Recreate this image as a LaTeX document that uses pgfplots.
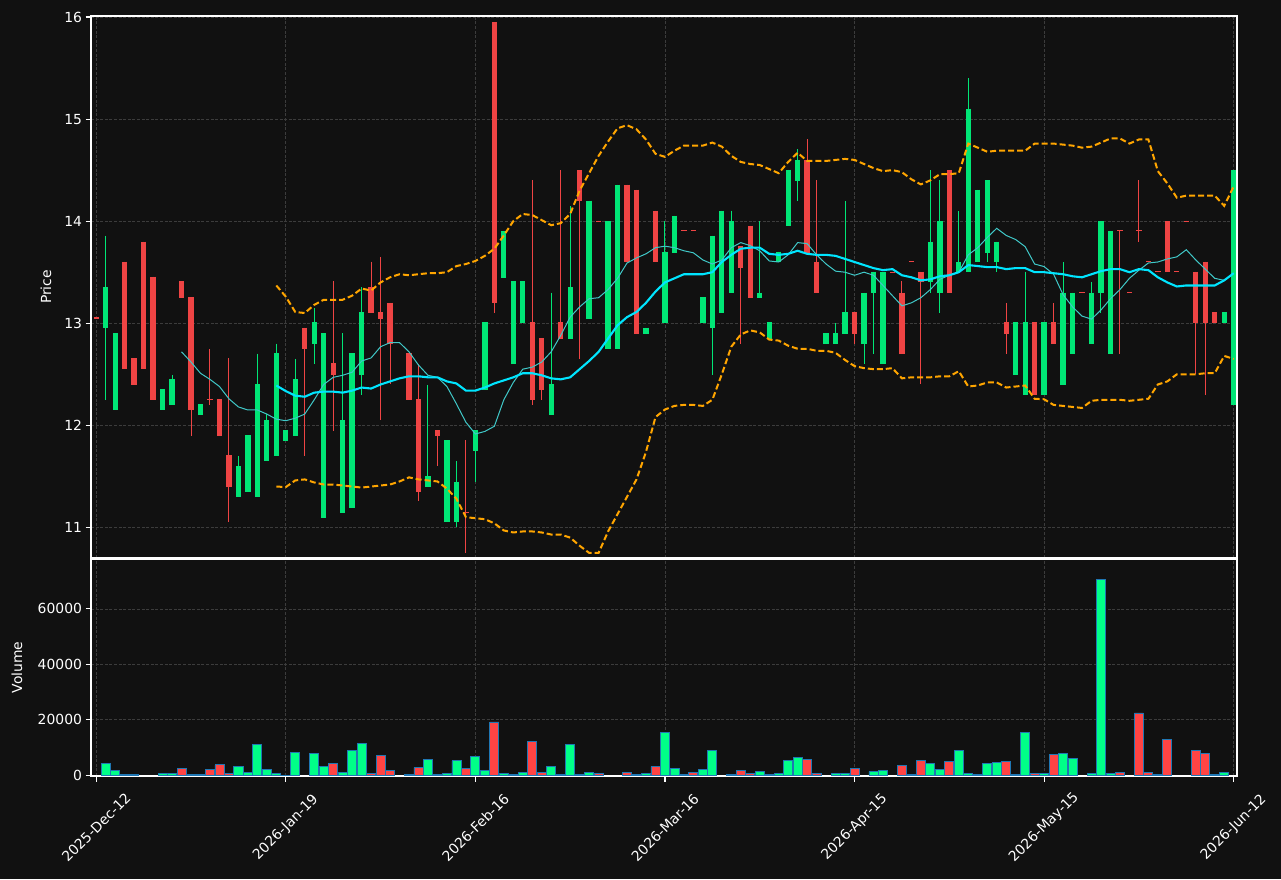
\documentclass[border=0pt]{standalone}
\usepackage{pgfplots}
\pgfplotsset{compat=1.18}
\usepackage{pgfplotstable}
\usepackage{fontspec}
\setmainfont{DejaVu Sans}

\definecolor{bg}{HTML}{111111}
\definecolor{upc}{HTML}{00E676}
\definecolor{dnc}{HTML}{EF4444}
\definecolor{vup}{HTML}{00FF88}
\definecolor{vdn}{HTML}{FF4444}
\definecolor{vedge}{HTML}{1F77B4}
\definecolor{maA}{HTML}{00E5FF}
\definecolor{maB}{HTML}{40C8C8}
\definecolor{bbc}{HTML}{FFA500}
\definecolor{gridc}{HTML}{3C3C3C}

\pgfplotstableread{
x O H L C
1 12.954 13.855 12.247 13.352
2 12.152 12.90 12.152 12.90
7 12.152 12.353 12.152 12.353
8 12.20 12.495 12.20 12.451
11 12.101 12.206 12.101 12.206
15 11.299 11.70 11.299 11.602
16 11.35 11.904 11.35 11.904
17 11.299 12.703 11.299 12.40
18 11.652 12.111 11.652 12.05
19 11.70 12.80 11.70 12.706
20 11.846 11.952 11.846 11.952
21 11.897 12.652 11.897 12.451
23 12.798 13.148 12.604 13.008
24 11.095 12.90 11.095 12.90
26 11.143 12.90 11.143 12.05
27 11.194 12.706 11.194 12.706
28 12.492 13.352 12.298 13.107
35 11.398 12.397 11.398 11.50
37 11.048 11.853 11.048 11.853
38 11.048 11.652 11.00 11.449
40 11.751 11.952 11.449 11.952
41 12.349 13.008 12.349 13.008
43 13.447 13.906 13.447 13.906
44 12.601 13.41 12.601 13.41
45 13.002 13.41 13.002 13.41
48 12.101 13.30 12.101 12.40
50 12.842 14.15 12.842 13.352
52 13.046 14.201 13.046 14.201
54 12.747 14.0 12.747 14.0
55 12.747 14.358 12.747 14.358
58 12.893 12.957 12.893 12.957
60 13.002 14.0 13.002 13.702
61 13.692 14.055 13.692 14.055
64 13.002 13.253 13.002 13.253
65 12.954 13.858 12.492 13.858
66 13.097 14.103 13.097 14.103
67 13.294 14.103 13.294 14.0
70 13.246 14.0 13.246 13.30
71 12.842 13.008 12.842 13.008
72 13.596 13.702 13.596 13.702
73 13.95 14.504 13.95 14.504
74 14.398 14.704 14.195 14.602
77 12.798 12.90 12.798 12.90
78 12.798 13.0 12.798 12.90
79 12.893 14.198 12.893 13.107
81 12.798 13.30 12.604 13.30
82 13.294 13.505 12.703 13.505
83 12.601 13.505 12.601 13.505
88 13.403 14.50 13.30 13.80
89 13.294 14.402 13.104 14.0
91 13.498 14.099 13.498 13.60
92 13.498 15.401 13.498 15.102
93 13.596 14.31 13.596 14.31
94 13.692 14.402 13.596 14.402
95 13.596 13.80 13.505 13.80
97 12.492 13.008 12.492 13.008
98 12.298 13.505 12.298 13.008
100 12.298 13.008 12.298 13.008
102 12.397 13.60 12.397 13.30
103 12.703 13.30 12.703 13.30
105 12.798 13.403 12.798 13.30
106 13.294 14.0 13.104 14.0
107 12.703 13.906 12.703 13.906
119 13.002 13.107 13.002 13.107
120 12.20 14.504 12.20 14.504
}\up

\pgfplotstableread{
x O H L C
0 13.06 13.06 13.045 13.045
3 13.603 13.603 12.553 12.553
4 12.655 12.655 12.397 12.397
5 13.80 13.80 12.553 12.553
6 13.457 13.457 12.247 12.247
9 13.41 13.41 13.246 13.246
10 13.253 13.253 11.90 12.152
12 12.257 12.75 12.20 12.245
13 12.254 12.254 11.897 11.897
14 11.707 12.655 11.051 11.398
22 12.957 12.957 11.703 12.747
25 12.607 13.41 11.948 12.492
29 13.352 13.603 13.097 13.097
30 13.107 13.651 12.05 13.046
31 13.202 13.202 12.40 12.798
33 12.706 12.706 12.247 12.247
34 12.254 12.604 11.255 11.35
36 11.952 11.952 11.602 11.897
39 11.155 11.853 10.752 11.14
42 15.952 15.952 13.104 13.199
46 13.008 14.402 12.20 12.247
47 12.852 12.852 12.247 12.346
49 13.008 14.50 12.842 12.842
51 14.50 14.50 12.652 14.195
53 14.005 14.005 13.99 13.99
56 14.358 14.358 13.596 13.596
57 14.31 14.31 12.893 12.893
59 14.103 14.103 13.596 13.596
62 13.91 13.91 13.90 13.90
63 13.91 13.91 13.90 13.90
68 13.753 13.753 12.798 13.545
69 13.957 13.957 13.246 13.246
75 14.602 14.803 13.692 13.692
76 13.603 14.402 13.294 13.294
80 13.107 13.107 12.798 12.893
84 13.505 13.505 13.495 13.495
85 13.30 13.41 12.703 12.703
86 13.605 13.605 13.595 13.595
87 13.505 13.505 12.40 13.403
90 14.50 14.50 13.294 13.294
96 13.008 13.199 12.703 12.893
99 13.008 13.008 12.298 12.298
101 13.008 13.199 12.798 12.798
104 13.305 13.305 13.295 13.295
108 13.91 13.91 12.703 13.90
109 13.305 13.305 13.295 13.295
110 13.91 14.402 13.80 13.90
111 13.605 13.605 13.595 13.595
112 13.51 13.51 13.50 13.50
113 14.0 14.0 13.498 13.498
114 13.51 13.51 13.50 13.50
115 14.005 14.005 13.995 13.995
116 13.505 13.505 12.50 13.002
117 13.603 13.603 12.298 13.002
118 13.107 13.107 13.002 13.002
}\down

\pgfplotstableread{
x m u l
19 12.39 13.37 11.40
20 12.335 13.26 11.395
21 12.29 13.11 11.46
22 12.28 13.10 11.47
23 12.32 13.18 11.44
24 12.33 13.23 11.42
25 12.33 13.23 11.42
26 12.32 13.23 11.41
27 12.34 13.27 11.40
28 12.37 13.34 11.39
29 12.36 13.32 11.40
30 12.40 13.40 11.41
31 12.43 13.45 11.42
32 12.46 13.48 11.45
33 12.48 13.47 11.49
34 12.48 13.48 11.47
35 12.47 13.49 11.46
36 12.47 13.49 11.45
37 12.43 13.50 11.38
38 12.41 13.56 11.28
39 12.34 13.58 11.10
40 12.34 13.61 11.09
41 12.37 13.66 11.08
42 12.41 13.73 11.04
43 12.44 13.86 10.97
44 12.47 14.00 10.95
45 12.51 14.07 10.96
46 12.51 14.06 10.96
47 12.49 14.01 10.95
48 12.46 13.96 10.93
49 12.45 13.98 10.93
50 12.47 14.07 10.90
51 12.55 14.30 10.82
52 12.63 14.47 10.75
53 12.72 14.64 10.75
54 12.85 14.78 10.96
55 12.98 14.91 11.13
56 13.06 14.94 11.30
57 13.11 14.90 11.47
58 13.20 14.80 11.74
59 13.31 14.66 12.08
60 13.40 14.63 12.155
61 13.44 14.69 12.19
62 13.48 14.74 12.20
63 13.48 14.74 12.20
64 13.48 14.74 12.19
65 13.50 14.77 12.25
66 13.60 14.73 12.50
67 13.67 14.64 12.77
68 13.73 14.58 12.89
69 13.74 14.56 12.93
70 13.74 14.55 12.91
71 13.68 14.51 12.84
72 13.67 14.47 12.83
73 13.68 14.58 12.78
74 13.71 14.67 12.75
75 13.68 14.59 12.75
76 13.67 14.59 12.73
77 13.67 14.59 12.73
78 13.66 14.60 12.71
79 13.63 14.61 12.64
80 13.60 14.60 12.58
81 13.57 14.56 12.56
82 13.54 14.52 12.55
83 13.52 14.49 12.55
84 13.53 14.50 12.56
85 13.47 14.48 12.46
86 13.45 14.41 12.47
87 13.42 14.36 12.47
88 13.43 14.40 12.47
89 13.46 14.46 12.48
90 13.47 14.46 12.48
91 13.50 14.47 12.53
92 13.57 14.76 12.38
93 13.56 14.72 12.39
94 13.55 14.68 12.42
95 13.55 14.69 12.42
96 13.53 14.69 12.37
97 13.54 14.69 12.38
98 13.54 14.69 12.39
99 13.50 14.76 12.26
100 13.50 14.76 12.255
101 13.49 14.76 12.20
102 13.48 14.75 12.19
103 13.46 14.74 12.18
104 13.45 14.72 12.17
105 13.48 14.73 12.24
106 13.51 14.77 12.25
107 13.53 14.81 12.25
108 13.53 14.81 12.25
109 13.50 14.76 12.24
110 13.53 14.80 12.25
111 13.52 14.80 12.26
112 13.45 14.49 12.40
113 13.40 14.37 12.43
114 13.36 14.23 12.50
115 13.37 14.25 12.50
116 13.37 14.25 12.50
117 13.37 14.25 12.51
118 13.37 14.25 12.51
119 13.42 14.15 12.68
120 13.49 14.34 12.65
}\mab

\pgfplotstableread{
x v
9 12.72
10 12.62
11 12.51
12 12.45
13 12.38
14 12.26
15 12.18
16 12.15
17 12.15
18 12.11
19 12.06
20 12.045
21 12.07
22 12.11
23 12.25
24 12.40
25 12.47
26 12.49
27 12.52
28 12.63
29 12.66
30 12.77
31 12.81
32 12.81
33 12.72
34 12.59
35 12.49
36 12.47
37 12.38
38 12.21
39 12.03
40 11.915
41 11.94
42 11.99
43 12.25
44 12.42
45 12.55
46 12.57
47 12.62
48 12.72
49 12.88
50 13.06
51 13.16
52 13.24
53 13.25
54 13.33
55 13.44
56 13.59
57 13.64
58 13.68
59 13.74
60 13.755
61 13.74
62 13.71
63 13.69
64 13.62
65 13.58
66 13.62
67 13.74
68 13.79
69 13.76
70 13.71
71 13.61
72 13.60
73 13.67
74 13.79
75 13.78
76 13.67
77 13.58
78 13.51
79 13.50
80 13.47
81 13.50
82 13.47
83 13.37
84 13.27
85 13.17
86 13.20
87 13.25
88 13.33
89 13.43
90 13.47
91 13.50
92 13.67
93 13.74
94 13.84
95 13.93
96 13.86
97 13.82
98 13.75
99 13.58
100 13.555
101 13.48
102 13.28
103 13.16
104 13.07
105 13.04
106 13.13
107 13.24
108 13.33
109 13.44
110 13.52
111 13.59
112 13.60
113 13.63
114 13.65
115 13.72
116 13.62
117 13.53
118 13.44
119 13.42
120 13.49
}\maten

\pgfplotstableread{
x v
1 4200
2 1700
7 600
8 600
11 200
15 3100
16 1000
17 11000
18 2000
19 600
20 100
21 8100
23 7800
24 3100
26 1000
27 8850
28 11400
35 5600
37 600
38 5250
40 6700
41 1700
43 600
44 200
45 1000
48 3100
50 11000
52 1000
58 600
60 15300
61 2400
64 2000
65 8850
67 150
70 1300
71 150
72 600
73 5250
74 6350
78 600
79 600
82 1300
83 1700
88 4200
89 2000
91 8850
92 600
93 150
94 4200
95 4550
97 150
98 15300
100 600
102 7800
103 6000
105 600
106 70600
107 600
119 1000
}\volup

\pgfplotstableread{
x v
3 150
4 150
9 2400
10 200
12 2000
13 3800
14 600
25 4200
29 600
30 7050
31 1700
33 200
34 2750
36 200
39 2400
42 19250
46 12100
47 1000
49 200
51 200
53 600
56 1000
57 200
59 3100
62 150
63 1000
68 1700
69 600
75 5600
76 600
80 2400
85 3450
86 150
87 5250
90 4900
96 4900
99 600
101 7400
108 1000
110 22500
111 1000
112 150
113 12800
116 8850
117 7800
118 150
}\voldn

\pgfplotsset{
  darkaxis/.style={
    scale only axis, width=1146pt, xmin=-0.55, xmax=120.35,
    axis line style={white, line width=1.1pt},
    tick style={white, line width=1.1pt},
    major tick length=5.5pt, tick align=outside, tick pos=left,
    xtick={0,20,...,120},
    grid=major,
    major grid style={gridc, line width=0.8pt, dash pattern=on 3pt off 1.6pt},
    tick label style={white, font=\fontsize{13.9}{16}\selectfont},
    label style={white, font=\fontsize{13.9}{16}\selectfont},
    /pgf/number format/assume math mode=true,
  },
}

\begin{document}
\begin{tikzpicture}
\fill[bg] (0,0) rectangle (1281pt,879pt);

% ---------------- price panel ----------------
\begin{axis}[darkaxis,
  at={(91pt,321pt)}, anchor=south west, height=542pt,
  ymin=10.70, ymax=16.01, ytick={11,12,13,14,15,16},
  xticklabels={}, xtick style={draw=none},
  ylabel={Price},
  ylabel style={at={(axis description cs:-0.0393,0.5)}, anchor=center},
]
% wicks
\addplot[draw=none, fill=none, mark=none, forget plot,
  error bars/.cd, y dir=minus, y explicit, error mark=none,
  error bar style={draw=upc, line width=1pt, solid}]
  table[x=x, y=H, y error minus expr=\thisrow{H}-\thisrow{L}] {\up};
\addplot[draw=none, fill=none, mark=none, forget plot,
  error bars/.cd, y dir=minus, y explicit, error mark=none,
  error bar style={draw=dnc, line width=1pt, solid}]
  table[x=x, y=H, y error minus expr=\thisrow{H}-\thisrow{L}] {\down};
% bodies
\addplot[draw=none, fill=none, mark=none, forget plot,
  error bars/.cd, y dir=minus, y explicit, error mark=none,
  error bar style={draw=upc, line width=5.3pt, solid}]
  table[x=x, y=C, y error minus expr=\thisrow{C}-\thisrow{O}] {\up};
\addplot[draw=none, fill=none, mark=none, forget plot,
  error bars/.cd, y dir=minus, y explicit, error mark=none,
  error bar style={draw=dnc, line width=5.3pt, solid}]
  table[x=x, y=O, y error minus expr=\thisrow{O}-\thisrow{C}] {\down};
% indicators
\addplot[maB, line width=1pt, mark=none] table[x=x, y=v] {\maten};
\addplot[maA, line width=2.1pt, mark=none] table[x=x, y=m] {\mab};
\addplot[bbc, line width=2pt, mark=none, dash pattern=on 6pt off 3pt] table[x=x, y=u] {\mab};
\addplot[bbc, line width=2pt, mark=none, dash pattern=on 6pt off 3pt] table[x=x, y=l] {\mab};
\end{axis}

% ---------------- volume panel ----------------
\begin{axis}[darkaxis,
  at={(91pt,103pt)}, anchor=south west, height=217pt,
  ymin=-250, ymax=78000, ytick={0,20000,40000,60000},
  scaled y ticks=false,
  /pgf/number format/fixed, /pgf/number format/1000 sep={},
  xticklabels={2025-Dec-12,2026-Jan-19,2026-Feb-16,2026-Mar-16,2026-Apr-15,2026-May-15,2026-Jun-12},
  xticklabel style={yshift=-46pt, rotate=45, anchor=center},
  ylabel={Volume},
  ylabel style={at={(axis description cs:-0.0646,0.5)}, anchor=center},
]
\addplot[ybar, bar width=0.95, bar shift=0pt, fill=vup, draw=vedge, line width=0.8pt] table[x=x, y=v] {\volup};
\addplot[ybar, bar width=0.95, bar shift=0pt, fill=vdn, draw=vedge, line width=0.8pt] table[x=x, y=v] {\voldn};
\end{axis}

\pgfresetboundingbox
\path[use as bounding box] (0,0) rectangle (1281pt,879pt);
\end{tikzpicture}
\end{document}
